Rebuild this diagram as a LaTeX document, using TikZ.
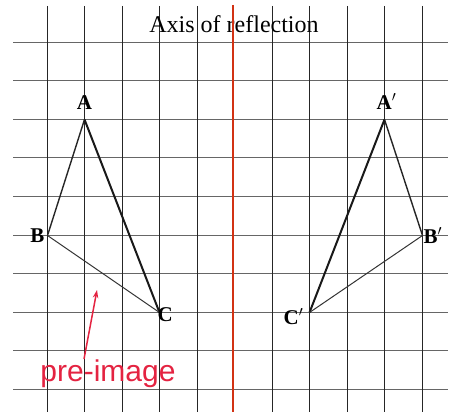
\documentclass[tikz,border=0pt]{standalone}
\usepackage{fontspec}
\setmainfont{Liberation Serif}
\newfontfamily\notesans{Liberation Sans}
\usetikzlibrary{
    arrows.meta,
    positioning
}
\definecolor{axisred}{RGB}{210,50,20}
\definecolor{notered}{RGB}{228,35,65}

\begin{document}
\begin{tikzpicture}[
    x=1pt, y=-1pt,
    node distance=2pt,
    every node/.style={inner sep=0pt},
    gridv/.style={black!85, line width=1pt},
    gridh/.style={black!60, line width=1pt},
    axisline/.style={axisred, line width=2pt},
    heading/.style={font=\fontsize{24}{26}\selectfont, anchor=base},
    vertex/.style={font=\fontsize{21}{23}\selectfont\bfseries},
    note/.style={font=\notesans\fontsize{30}{32}\selectfont, text=notered, anchor=base},
    thickside/.style={black!90, line width=2pt},
    midside/.style={black!85, line width=1.4pt},
    thinside/.style={black!80, line width=1pt},
    pointer/.style={-{Stealth[length=8pt, width=5.5pt]}, notered, line width=1.5pt}
]
\useasboundingbox (0,0) rectangle (450,412);

% grid
\foreach \y in {42.5,80.5,119.5,157.5,196.5,235.5,273.5,312.5,350.5,389.5}
  \draw[gridh] (13,\y) -- (448,\y);
\foreach \x in {47.5,84.5,122.5,159.5,197.5,272.5,309.5,347.5,384.5,422.5}
  \draw[gridv] (\x,6) -- (\x,412);

% axis of reflection
\node[heading] (title) at (234,33) {Axis of reflection};
\coordinate (axtop) at (233,5);
\coordinate (axbot) at (233,412);
\draw[axisline] (axtop) -- (axbot);

% pre-image and image points
\coordinate (A) at (84.5,119.5);
\coordinate (B) at (47.5,235.5);
\coordinate (C) at (159.5,312.5);
\coordinate (A') at (384.5,119.5);
\coordinate (B') at (422.5,235.5);
\coordinate (C') at (309.5,312.5);

\draw[midside] (A) -- (B);
\draw[thickside] (A) -- (C);
\draw[thinside] (B) -- (C);
\draw[midside] (A') -- (B');
\draw[thickside] (A') -- (C');
\draw[thinside] (B') -- (C');

\node[vertex, above=10pt of A] (labA) {A};
\node[vertex, left=3pt of B] (labB) {B};
\node[vertex, anchor=north west] (labC) at ([shift={(-2,-5)}]C) {C};
\node[vertex, above=10pt of A', xshift=2pt] (labA') {A$'$};
\node[vertex, right=1pt of B'] (labB') {B$'$};
\node[vertex, anchor=north east] (labC') at ([shift={(-6,-4)}]C') {C$'$};

% label for the original triangle
\node[note] (pre) at (108,381) {pre-image};
\coordinate (tip) at (97,290);
\draw[pointer] ([xshift=-24pt]pre.north) -- (tip);
\end{tikzpicture}
\end{document}
